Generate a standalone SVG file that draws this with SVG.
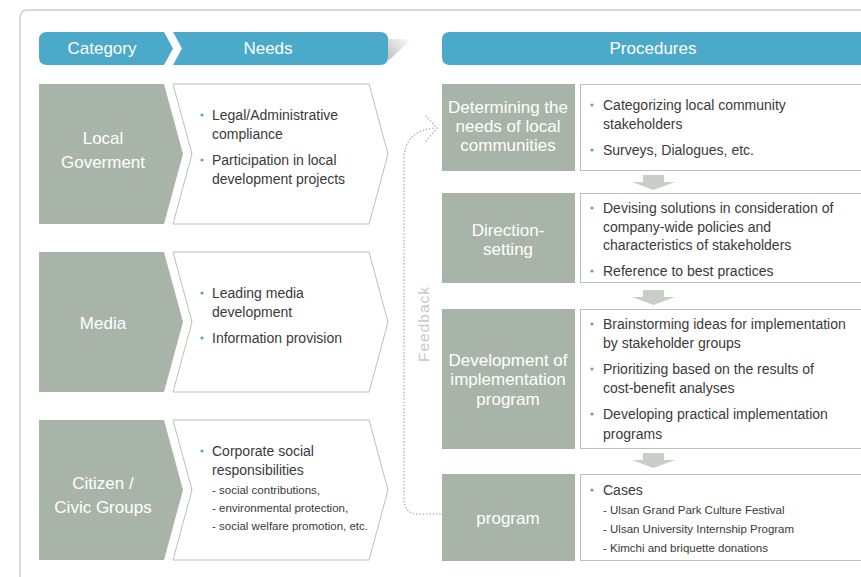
<svg xmlns="http://www.w3.org/2000/svg" width="861" height="577" viewBox="0 0 861 577">
  <style>
    .hdr { fill: #4ba9c9; }
    .hdr-t { font-family: "Liberation Sans", Roboto, sans-serif; font-size: 17px; fill: #ffffff; text-anchor: middle; }
    .cat { fill: #a9b4a8; }
    .cat-t { font-family: "Liberation Sans", sans-serif; font-size: 17px; fill: #ffffff; text-anchor: middle; }
    .box { fill: #ffffff; stroke: #b9c1b9; stroke-width: 1; }
    .txt { font-family: "Liberation Sans", sans-serif; font-size: 14px; fill: #3a3a3a; }
    .sub { font-family: "Liberation Sans", sans-serif; font-size: 11.5px; fill: #3a3a3a; }
    .dot { fill: #4ba9c9; }
    .down { fill: #c6cec6; }
    .fb { fill: none; stroke: #b4bcb4; stroke-width: 1.7; stroke-linecap: round; stroke-dasharray: 0 3.3; }
    .fb-t { font-family: "Liberation Sans", sans-serif; font-size: 15.5px; fill: #c3cbc3; letter-spacing: 1px; text-anchor: middle; }
  </style>
  <defs>
    <linearGradient id="fold" x1="0" y1="1" x2="1" y2="0">
      <stop offset="0" stop-color="#bdbdbd"/>
      <stop offset="1" stop-color="#ffffff"/>
    </linearGradient>
  </defs>

  <!-- frame -->
  <path d="M20,577 V18 Q20,10 28,10 H861" fill="none" stroke="#c9d0c9" stroke-width="1.5"/>

  <!-- column headers -->
  <g id="header-category">
    <path class="hdr" d="M47,32 H164 L173,48.5 L164,65 H47 Q39,65 39,57 V40 Q39,32 47,32 Z"/>
    <text class="hdr-t" x="102" y="54">Category</text>
  </g>
  <g id="header-needs">
    <polygon points="388,39 412,39 388,61" fill="url(#fold)"/>
    <path class="hdr" d="M173,32 H380 Q388,32 388,40 V57 Q388,65 380,65 H173 L182,48.5 Z"/>
    <text class="hdr-t" x="268" y="54">Needs</text>
  </g>
  <g id="header-procedures">
    <path class="hdr" d="M450,32 H861 V65 H450 Q442,65 442,57 V40 Q442,32 450,32 Z"/>
    <text class="hdr-t" x="653" y="54">Procedures</text>
  </g>

  <!-- stakeholder rows -->
  <g id="row-local-government">
    <path class="cat" d="M39,84 H164 L183,154 L164,224 H39 Z"/>
    <text class="cat-t" x="103" y="144">Local</text>
    <text class="cat-t" x="103" y="168">Goverment</text>
    <path class="box" d="M173,84 H369 L388,154 L369,224 H173 L192,154 Z"/>
    <circle class="dot" cx="202" cy="115" r="1.6"/>
    <text class="txt" x="212" y="120">Legal/Administrative</text>
    <text class="txt" x="212" y="139">compliance</text>
    <circle class="dot" cx="202" cy="160" r="1.6"/>
    <text class="txt" x="212" y="165">Participation in local</text>
    <text class="txt" x="212" y="184">development projects</text>
  </g>

  <g id="row-media">
    <path class="cat" d="M39,252 H164 L183,322 L164,392 H39 Z"/>
    <text class="cat-t" x="103" y="329">Media</text>
    <path class="box" d="M173,252 H369 L388,322 L369,392 H173 L192,322 Z"/>
    <circle class="dot" cx="202" cy="293" r="1.6"/>
    <text class="txt" x="212" y="298">Leading media</text>
    <text class="txt" x="212" y="317">development</text>
    <circle class="dot" cx="202" cy="338" r="1.6"/>
    <text class="txt" x="212" y="343">Information provision</text>
  </g>

  <g id="row-citizen">
    <path class="cat" d="M39,420 H164 L183,490 L164,560 H39 Z"/>
    <text class="cat-t" x="103" y="489">Citizen /</text>
    <text class="cat-t" x="103" y="513">Civic Groups</text>
    <path class="box" d="M173,420 H369 L388,490 L369,560 H173 L192,490 Z"/>
    <circle class="dot" cx="202" cy="451" r="1.6"/>
    <text class="txt" x="212" y="456">Corporate social</text>
    <text class="txt" x="212" y="475">responsibilities</text>
    <text class="sub" x="212" y="494">- social contributions,</text>
    <text class="sub" x="212" y="512">- environmental protection,</text>
    <text class="sub" x="212" y="530">- social welfare promotion, etc.</text>
  </g>

  <!-- procedure steps -->
  <g id="step-needs">
    <rect class="cat" x="442" y="84" width="133" height="87"/>
    <text class="cat-t" x="508" y="113">Determining the</text>
    <text class="cat-t" x="508" y="132">needs of local</text>
    <text class="cat-t" x="508" y="151">communities</text>
    <rect class="box" x="580.5" y="84.5" width="290" height="86"/>
    <circle class="dot" cx="592" cy="105" r="1.6"/>
    <text class="txt" x="603" y="110">Categorizing local community</text>
    <text class="txt" x="603" y="129">stakeholders</text>
    <circle class="dot" cx="592" cy="150" r="1.6"/>
    <text class="txt" x="603" y="155">Surveys, Dialogues, etc.</text>
  </g>

  <g id="step-direction">
    <rect class="cat" x="442" y="193" width="133" height="90"/>
    <text class="cat-t" x="508" y="236">Direction-</text>
    <text class="cat-t" x="508" y="255">setting</text>
    <rect class="box" x="580.5" y="193.5" width="290" height="89"/>
    <circle class="dot" cx="592" cy="208" r="1.6"/>
    <text class="txt" x="603" y="213">Devising solutions in consideration of</text>
    <text class="txt" x="603" y="232">company-wide policies and</text>
    <text class="txt" x="603" y="250">characteristics of stakeholders</text>
    <circle class="dot" cx="592" cy="271" r="1.6"/>
    <text class="txt" x="603" y="276">Reference to best practices</text>
  </g>

  <g id="step-development">
    <rect class="cat" x="442" y="309" width="133" height="140"/>
    <text class="cat-t" x="508" y="366">Development of</text>
    <text class="cat-t" x="508" y="385">implementation</text>
    <text class="cat-t" x="508" y="405">program</text>
    <rect class="box" x="580.5" y="309.5" width="290" height="139"/>
    <circle class="dot" cx="592" cy="324" r="1.6"/>
    <text class="txt" x="603" y="329">Brainstorming ideas for implementation</text>
    <text class="txt" x="603" y="348">by stakeholder groups</text>
    <circle class="dot" cx="592" cy="369" r="1.6"/>
    <text class="txt" x="603" y="374">Prioritizing based on the results of</text>
    <text class="txt" x="603" y="393">cost-benefit analyses</text>
    <circle class="dot" cx="592" cy="414" r="1.6"/>
    <text class="txt" x="603" y="419">Developing practical implementation</text>
    <text class="txt" x="603" y="439">programs</text>
  </g>

  <g id="step-program">
    <rect class="cat" x="442" y="474" width="133" height="87"/>
    <text class="cat-t" x="508" y="524">program</text>
    <rect class="box" x="580.5" y="474.5" width="290" height="86"/>
    <circle class="dot" cx="592" cy="490" r="1.6"/>
    <text class="txt" x="603" y="495">Cases</text>
    <text class="sub" x="603" y="514">- Ulsan Grand Park Culture Festival</text>
    <text class="sub" x="603" y="533">- Ulsan University Internship Program</text>
    <text class="sub" x="603" y="552">- Kimchi and briquette donations</text>
  </g>

  <!-- connectors -->
  <g id="connectors">
    <path class="down" d="M643,175 H664 V182 H675 L653.5,190 L632,182 H643 Z"/>
    <path class="down" d="M643,290 H664 V297 H675 L653.5,305 L632,297 H643 Z"/>
    <path class="down" d="M643,453 H664 V460 H675 L653.5,468 L632,460 H643 Z"/>
    <path class="fb" d="M440,514 H418 Q404,514 404,498 V160 Q404,130 436,128"/>
    <path class="fb" d="M426,116 L437,128 L426,141"/>
    <text class="fb-t" transform="translate(429,324) rotate(-90)">Feedback</text>
  </g>
</svg>
